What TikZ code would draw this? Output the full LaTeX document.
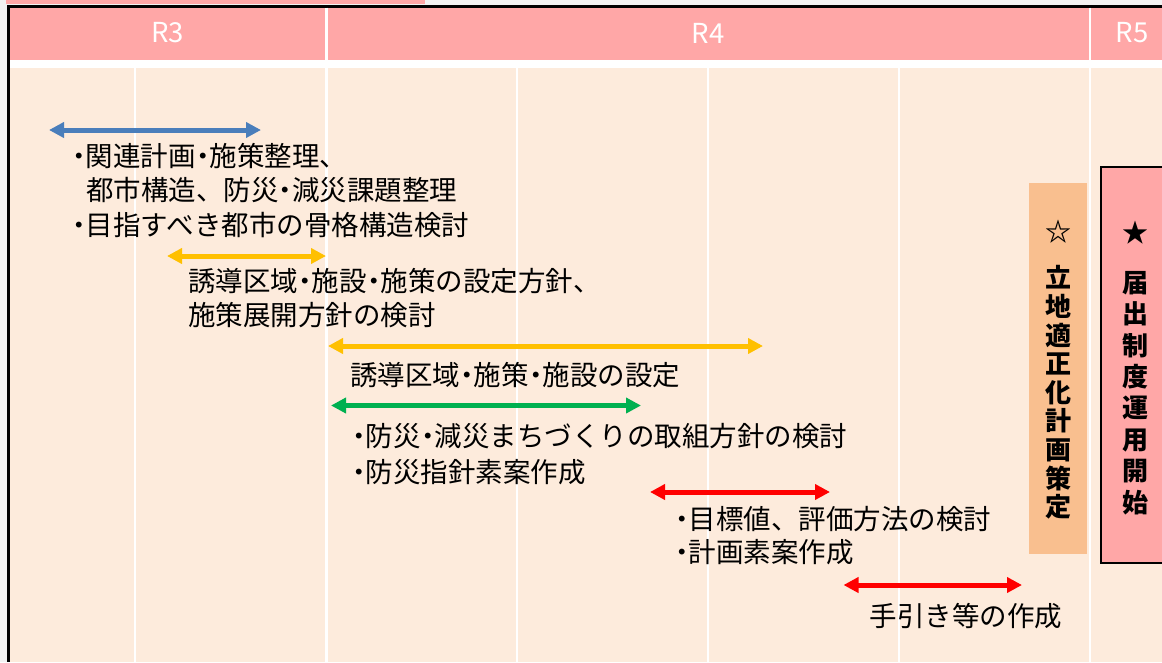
\documentclass[tikz,border=0pt]{standalone}
\usepackage{fontspec}
\setmainfont{Noto Sans CJK JP}
\usetikzlibrary{arrows.meta}
\definecolor{bggray}{HTML}{F2F2F2}
\definecolor{hdrpink}{HTML}{FFA7A7}
\definecolor{bodypeach}{HTML}{FDEBDC}
\definecolor{boxorange}{HTML}{F9BF8F}
\definecolor{arrblue}{HTML}{4A7EBB}
\definecolor{arryellow}{HTML}{FFC000}
\definecolor{arrgreen}{HTML}{00B050}
\definecolor{arrred}{HTML}{FF0000}
\newcommand\dt{\makebox[0.5em][c]{・}}
\tikzset{
  x=1pt, y=-1pt,
  dblarrow/.style={line width=5pt, {Triangle[length=15pt,width=15pt]}-{Triangle[length=15pt,width=15pt]}},
  txt/.style={anchor=base west, inner sep=0pt, font=\fontsize{27.5}{34.5}\selectfont, text=black},
  hdr/.style={inner sep=0pt, font=\fontsize{27.5}{30}\selectfont, text=white},
  vtxtA/.style={inner sep=0pt, align=center, font=\bfseries\fontsize{26}{28.6}\selectfont},
  vtxtB/.style={inner sep=0pt, align=center, font=\bfseries\fontsize{26}{31.4}\selectfont},
  star/.style={inner sep=0pt, font=\bfseries\fontsize{26}{30}\selectfont},
  colline/.style={draw=white, line width=2.7pt}
}
\begin{document}
\begin{tikzpicture}
\useasboundingbox (0,0) rectangle (1162,662);
% background and frame
\fill[bggray] (0,0) rectangle (1162,662);
\fill[hdrpink] (5.7,0) rectangle (425,3.8);
\fill[black] (6.9,4.6) rectangle (1162,7.7);
\fill[black] (6.9,4.6) rectangle (9.6,662);
\fill[hdrpink] (9.6,7.7) rectangle (1162,60);
\fill[white] (9.6,60) rectangle (1162,68);
\fill[bodypeach] (9.6,68) rectangle (1162,662);
% column lines
\foreach \xx in {135,517,708,899} \draw[colline] (\xx,68) -- (\xx,662);
\foreach \xx in {326.5,1090} \draw[colline] (\xx,7.7) -- (\xx,662);
% header labels
\node[hdr] (r3) at (167.5,33) {R3};
\node[hdr] (r4) at (708,33) {R4};
\node[hdr] (r5) at (1132,33) {R5};
% vertical boxes
\node[fill=boxorange, minimum width=58pt, minimum height=371pt, inner sep=0pt] (obox) at (1058,368.5) {};
\node[fill=hdrpink, draw=black, line width=2pt, minimum width=69pt, minimum height=396pt, inner sep=0pt] (pbox) at (1135.5,365) {};
\node[star] (ostar) at (1058,232) {☆};
\node[vtxtA] (otext) at (1058,392.5) {立\\地\\適\\正\\化\\計\\画\\策\\定};
\node[star] (pstar) at (1135,233) {★};
\node[vtxtB] (ptext) at (1135,393) {届\\出\\制\\度\\運\\用\\開\\始};
% arrows
\coordinate (b1) at (49,130);   \coordinate (b2) at (261,130);
\coordinate (y1) at (167,256);  \coordinate (y2) at (326,256);
\coordinate (y3) at (328,346);  \coordinate (y4) at (763,346);
\coordinate (g1) at (331,405.5);\coordinate (g2) at (641,405.5);
\coordinate (r1) at (650,492);  \coordinate (r2) at (830,492);
\coordinate (r3a) at (843.5,585);\coordinate (r3b) at (1022,585);
\draw[dblarrow, arrblue] (b1) -- (b2);
\draw[dblarrow, arryellow] (y1) -- (y2);
\draw[dblarrow, arryellow] (y3) -- (y4);
\draw[dblarrow, arrgreen] (g1) -- (g2);
\draw[dblarrow, arrred] (r1) -- (r2);
\draw[dblarrow, arrred] (r3a) -- (r3b);
% texts
\node[txt] (a1) at (72,166) {\dt 関連計画\dt 施策整理、};
\node[txt] (a2) at (86,200.5) {都市構造、防災\dt 減災課題整理};
\node[txt] (a3) at (72,235.5) {\dt 目指すべき都市の骨格構造検討};
\node[txt] (bl1) at (188,291) {誘導区域\dt 施設\dt 施策の設定方針、};
\node[txt] (bl2) at (188,325.5) {施策展開方針の検討};
\node[txt] (c1) at (350,385) {誘導区域\dt 施策\dt 施設の設定};
\node[txt] (d1) at (352,446.5) {\dt 防災\dt 減災まちづくりの取組方針の検討};
\node[txt] (d2) at (352,482.5) {\dt 防災指針素案作成};
\node[txt] (e1) at (675,529) {\dt 目標値、評価方法の検討};
\node[txt] (e2) at (675,562) {\dt 計画素案作成};
\node[txt] (f1) at (869.5,626.5) {手引き等の作成};
\end{tikzpicture}
\end{document}
